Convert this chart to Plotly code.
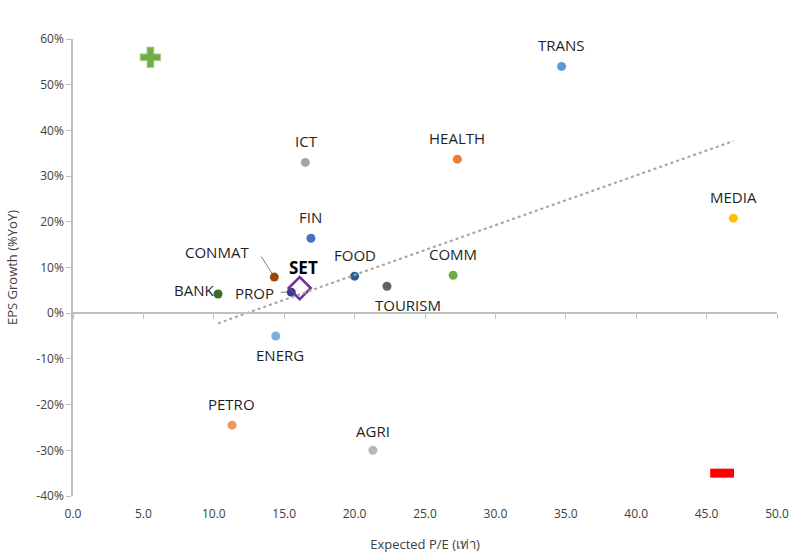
import numpy as np
import plotly.graph_objects as go

# Sector valuation vs. earnings growth
sectors = ["TRANS", "HEALTH", "ICT", "MEDIA", "FIN", "CONMAT", "FOOD", "COMM",
           "TOURISM", "PROP", "BANK", "ENERG", "PETRO", "AGRI"]
pe = [34.7, 27.3, 16.5, 46.9, 16.9, 14.3, 20.0, 27.0, 22.3, 15.5, 10.3, 14.4, 11.3, 21.3]
eps_growth = [54.0, 33.7, 33.0, 20.8, 16.4, 7.9, 8.1, 8.3, 5.9, 4.6, 4.2, -5.0, -24.5, -30.0]
colors = ["#5b9bd5", "#ed7d31", "#a5a5a5", "#ffc000", "#4472c4", "#9e480e", "#255e91",
          "#70ad47", "#636363", "#264478", "#43682b", "#7cafdd", "#f1975a", "#b7b7b7"]

set_pe, set_eps = [16.1], [5.5]
cons_pe, cons_eps = [18.1], [64.3]
plus_pe, plus_eps = [5.5], [56.0]
minus_pe, minus_eps = [46.1], [-35.0]

x_ticks = [0, 5, 10, 15, 20, 25, 30, 35, 40, 45, 50]
y_ticks = [-40, -30, -20, -10, 0, 10, 20, 30, 40, 50, 60]
y_tick_text = [f"{v}%" for v in y_ticks]

FONT = "'Open Sans', sans-serif"
TXT = "#1f1f1f"

# label placement per sector: (xshift, yshift, xanchor)
label_pos = {
    "TRANS": (0, 21, "center"), "HEALTH": (0, 21, "center"), "ICT": (1, 21, "center"),
    "MEDIA": (0, 21, "center"), "FIN": (0, 21, "center"), "FOOD": (0, 21, "center"),
    "COMM": (0, 21, "center"), "TOURISM": (21, -19, "center"), "ENERG": (4, -19, "center"),
    "PETRO": (-1, 21, "center"), "AGRI": (0, 19, "center"), "BANK": (-2, 4, "right"),
    "PROP": (-15, -1, "right"), "CONMAT": (-23, 25, "right"),
}

fig = go.Figure()

# linear trend over the sectors
slope, intercept = np.polyfit(pe, eps_growth, 1)
tx = np.array([min(pe), max(pe)])
fig.add_trace(go.Scatter(x=tx, y=slope * tx + intercept, mode="lines",
                         line=dict(color="#a6a6a6", width=2, dash="dot"),
                         xaxis="x2", hoverinfo="skip"))

fig.add_trace(go.Scatter(x=pe, y=eps_growth, mode="markers", text=sectors,
                         marker=dict(color=colors, size=9), cliponaxis=False))

fig.add_trace(go.Scatter(x=set_pe, y=set_eps, mode="markers",
                         marker=dict(symbol="diamond-open", size=17, color="#7030a0",
                                     line=dict(width=2.5, color="#7030a0"))))

fig.add_trace(go.Scatter(x=cons_pe, y=cons_eps, mode="markers", cliponaxis=False,
                         marker=dict(color="#7f6000", size=9)))

fig.add_trace(go.Scatter(x=plus_pe, y=plus_eps, mode="markers", cliponaxis=False,
                         marker=dict(symbol="cross", size=17, color="#70ad47",
                                     line=dict(width=1, color="#a9d18e"))))

fig.add_trace(go.Scatter(x=minus_pe, y=minus_eps, mode="markers", cliponaxis=False,
                         marker=dict(symbol="line-ew", size=17, color="#ff0000",
                                     line=dict(width=9, color="#ff0000"))))

annotations = []
for name, x, y in zip(sectors, pe, eps_growth):
    dx, dy, anchor = label_pos[name]
    annotations.append(dict(x=x, y=y, text=name, showarrow=False, xshift=dx, yshift=dy,
                            xanchor=anchor, yanchor="middle",
                            font=dict(family=FONT, size=15, color=TXT)))

annotations.append(dict(x=set_pe[0], y=set_eps[0], text="<b>SET</b>", showarrow=False,
                        xshift=4, yshift=21, font=dict(family=FONT, size=17, color="#000000")))
annotations.append(dict(x=cons_pe[0], y=cons_eps[0], text="Cons<br>turn around",
                        showarrow=False, xshift=-26, yshift=-9, align="center",
                        font=dict(family=FONT, size=15, color=TXT)))

# leader lines for the crowded labels
conmat_i = sectors.index("CONMAT")
prop_i = sectors.index("PROP")
annotations.append(dict(x=pe[conmat_i], y=eps_growth[conmat_i], ax=-14, ay=-22, text="",
                        showarrow=True, arrowhead=0, arrowwidth=1, arrowcolor="#7f7f7f",
                        standoff=4))
annotations.append(dict(x=pe[prop_i], y=eps_growth[prop_i], ax=-12, ay=0, text="",
                        showarrow=True, arrowhead=0, arrowwidth=1, arrowcolor="#7f7f7f",
                        standoff=4))

fig.update_layout(
    width=794, height=556,
    margin=dict(l=73, r=17, t=39, b=60),
    plot_bgcolor="white", paper_bgcolor="white",
    showlegend=False,
    font=dict(family=FONT, size=12, color="#404040"),
    annotations=annotations,
    xaxis=dict(range=[0, 50], tickvals=x_ticks, tickformat=".1f", automargin=False,
               showgrid=False, zeroline=False, showline=False, ticks="",
               ticklabelstandoff=9, tickfont=dict(size=12, color="#404040"),
               title=dict(text="Expected P/E (เท่า)", standoff=18,
                          font=dict(size=13, color="#404040"))),
    xaxis2=dict(range=[0, 50], tickvals=x_ticks, overlaying="x", anchor="free",
                position=0.4, showline=True, linecolor="#bfbfbf", linewidth=1.5,
                ticks="outside", ticklen=5, tickcolor="#bfbfbf", showticklabels=False,
                showgrid=False, zeroline=False, automargin=False),
    yaxis=dict(range=[-40, 60], tickvals=y_ticks, ticktext=y_tick_text, automargin=False,
               showgrid=False, zeroline=False, showline=True, linecolor="#bfbfbf",
               linewidth=1.5, ticks="outside", ticklen=5, tickcolor="#bfbfbf",
               tickfont=dict(size=12, color="#404040"),
               title=dict(text="EPS Growth (%YoY)", standoff=16,
                          font=dict(size=13, color="#404040"))),
)

fig.write_html("out.html")
